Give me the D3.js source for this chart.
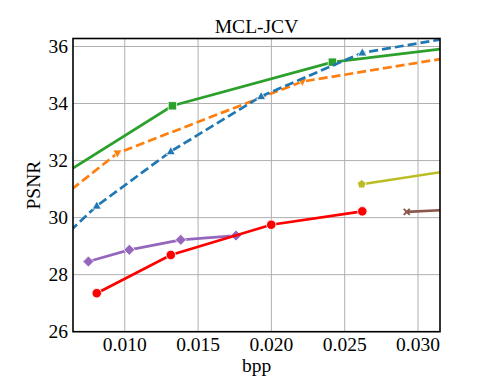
<!DOCTYPE html>
<html>
<head>
<meta charset="utf-8">
<script src="https://cdn.jsdelivr.net/npm/d3@7"></script>
<style>
  body { margin: 0; background: #fff; }
  text { font-family: "Liberation Serif", "DejaVu Serif", serif; }
</style>
</head>
<body>
<div id="chart"></div>
<script>
// values (points outside the axes are only there so the clipped segments run to the edge)
const greenX = [0.005, 0.01325, 0.02416, 0.040];
const greenY = [31.26, 33.92, 35.45, 36.43];
const blueX = [0.005, 0.00809, 0.01314, 0.0193, 0.0262, 0.040];
const blueY = [28.92, 30.41, 32.32, 34.25, 35.78, 36.98];
const orangeX = [0.005, 0.0095, 0.02211, 0.040];
const orangeY = [30.43, 32.26, 34.77, 36.27];
const oliveX = [0.02616, 0.040];
const oliveY = [31.17, 32.26];
const brownX = [0.02923, 0.040];
const brownY = [30.2, 30.48];
const redX = [0.00809, 0.01314, 0.01999, 0.0262];
const redY = [27.35, 28.69, 29.75, 30.22];
const purpleX = [0.00752, 0.01031, 0.01382, 0.01759];
const purpleY = [28.46, 28.87, 29.22, 29.37];

const xTicks = [0.010, 0.015, 0.020, 0.025, 0.030];
const yTicks = [26, 28, 30, 32, 34, 36];

const width = 488, height = 391;
const margin = {top: 38.5, right: 48, bottom: 59.3, left: 73};
const fontSize = "19.5px";

const svg = d3.select("#chart").append("svg")
  .attr("width", width)
  .attr("height", height);

const x = d3.scaleLinear().domain([0.00647, 0.0315]).range([margin.left, width - margin.right]);
const y = d3.scaleLinear().domain([26, 36.28]).range([height - margin.bottom, margin.top]);

svg.append("defs").append("clipPath").attr("id", "plot")
  .append("rect")
  .attr("x", margin.left).attr("y", margin.top)
  .attr("width", width - margin.left - margin.right)
  .attr("height", height - margin.top - margin.bottom);

// grid
const grid = svg.append("g").attr("stroke", "#b0b0b0").attr("stroke-width", 1);
grid.selectAll("line.gx").data(xTicks).join("line")
  .attr("x1", d => x(d)).attr("x2", d => x(d))
  .attr("y1", margin.top).attr("y2", height - margin.bottom);
grid.selectAll("line.gy").data(yTicks).join("line")
  .attr("y1", d => y(d)).attr("y2", d => y(d))
  .attr("x1", margin.left).attr("x2", width - margin.right);

// series
const series = [
  {xs: greenX, ys: greenY, color: "#2ca02c", dash: null, marker: "square"},
  {xs: orangeX, ys: orangeY, color: "#ff7f0e", dash: "9,4", marker: "down"},
  {xs: blueX, ys: blueY, color: "#1f77b4", dash: "9,4", marker: "up"},
  {xs: oliveX, ys: oliveY, color: "#bcbd22", dash: null, marker: "pentagon"},
  {xs: brownX, ys: brownY, color: "#8c564b", dash: null, marker: "x"},
  {xs: purpleX, ys: purpleY, color: "#9467bd", dash: null, marker: "diamond"},
  {xs: redX, ys: redY, color: "#ff0000", dash: null, marker: "circle"}
];

function markerPath(kind) {
  if (kind === "square") return d3.symbol(d3.symbolSquare, 70)();
  if (kind === "up") return "M0,-5L4.5,3.2L-4.5,3.2Z";
  if (kind === "down") return "M0,5L4.5,-3.2L-4.5,-3.2Z";
  if (kind === "diamond") return "M0,-5.5L5.5,0L0,5.5L-5.5,0Z";
  if (kind === "circle") return d3.symbol(d3.symbolCircle, 70)();
  if (kind === "pentagon") {
    const pts = d3.range(5).map(i => {
      const a = -Math.PI / 2 + i * 2 * Math.PI / 5;
      return [4.6 * Math.cos(a), 4.6 * Math.sin(a)];
    });
    return "M" + pts.join("L") + "Z";
  }
  if (kind === "x") return "M-3,-3L3,3M-3,3L3,-3";
  return null;
}

const plot = svg.append("g").attr("clip-path", "url(#plot)");
const line = d3.line().x(d => x(d[0])).y(d => y(d[1]));

series.forEach(s => {
  const pts = s.xs.map((v, i) => [v, s.ys[i]]);
  plot.append("path")
    .datum(pts)
    .attr("d", line)
    .attr("fill", "none")
    .attr("stroke", s.color)
    .attr("stroke-width", 2.7)
    .attr("stroke-dasharray", s.dash);

  plot.selectAll(null)
    .data(pts)
    .join("path")
    .attr("transform", d => `translate(${x(d[0])},${y(d[1])})`)
    .attr("d", markerPath(s.marker))
    .attr("fill", s.marker === "x" ? "none" : s.color)
    .attr("stroke", s.marker === "x" ? s.color : "#fff")
    .attr("stroke-width", s.marker === "x" ? 2 : 0.8);
});

// frame
svg.append("rect")
  .attr("x", margin.left).attr("y", margin.top)
  .attr("width", width - margin.left - margin.right)
  .attr("height", height - margin.top - margin.bottom)
  .attr("fill", "none")
  .attr("stroke", "#000")
  .attr("stroke-width", 1.6);

// tick labels
svg.append("g").selectAll("text").data(xTicks).join("text")
  .attr("x", d => x(d))
  .attr("y", height - margin.bottom + 19)
  .attr("text-anchor", "middle")
  .style("font-size", fontSize)
  .text(d => d3.format(".3f")(d));

svg.append("g").selectAll("text").data(yTicks).join("text")
  .attr("x", margin.left - 5)
  .attr("y", d => y(d) + 6.5)
  .attr("text-anchor", "end")
  .style("font-size", fontSize)
  .text(d => d);

// titles
svg.append("text")
  .attr("x", (margin.left + width - margin.right) / 2)
  .attr("y", 33)
  .attr("text-anchor", "middle")
  .style("font-size", fontSize)
  .text("MCL-JCV");

svg.append("text")
  .attr("x", (margin.left + width - margin.right) / 2)
  .attr("y", 372)
  .attr("text-anchor", "middle")
  .style("font-size", fontSize)
  .text("bpp");

svg.append("text")
  .attr("transform", `translate(40,${(margin.top + height - margin.bottom) / 2}) rotate(-90)`)
  .attr("text-anchor", "middle")
  .style("font-size", fontSize)
  .text("PSNR");
</script>
</body>
</html>
